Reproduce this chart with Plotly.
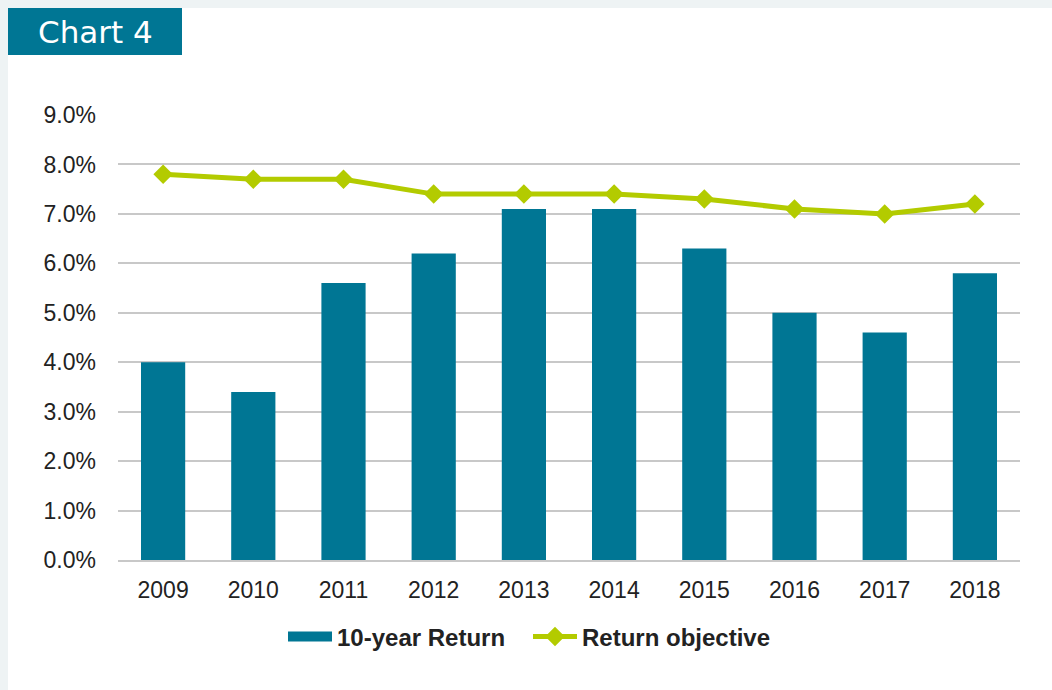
import plotly.graph_objects as go

years = ["2009", "2010", "2011", "2012", "2013", "2014", "2015", "2016", "2017", "2018"]
ten_year_return = [4.0, 3.4, 5.6, 6.2, 7.1, 7.1, 6.3, 5.0, 4.6, 5.8]
return_objective = [7.8, 7.7, 7.7, 7.4, 7.4, 7.4, 7.3, 7.1, 7.0, 7.2]
y_ticks = [0, 1, 2, 3, 4, 5, 6, 7, 8, 9]
y_tick_labels = [f"{v:.1f}%" for v in y_ticks]

TEAL = "#007694"
LIME = "#b3cb00"
W, H = 1052, 690
L, R, T, B = 118, 32, 115, 130
pw, ph = W - L - R, H - T - B

def px(x):
    return (x - L) / pw

def py(y):
    return (H - B - y) / ph

fig = go.Figure()
fig.add_trace(go.Bar(x=years, y=ten_year_return, name="10-year Return",
                     marker=dict(color=TEAL, line=dict(width=0)), showlegend=False))
# legend swatch for bars (wide rectangle like the original)
fig.add_trace(go.Scatter(x=[None], y=[None], name="10-year Return", mode="lines",
                         line=dict(color=TEAL, width=13), showlegend=True))
fig.add_trace(go.Scatter(x=years, y=return_objective, name="Return objective",
                         mode="lines+markers",
                         line=dict(color=LIME, width=5),
                         marker=dict(symbol="diamond", size=15, color=LIME)))

shapes = [
    dict(type="rect", xref="paper", yref="paper", x0=px(0), x1=px(W), y0=py(0), y1=py(8),
         fillcolor="#eef3f4", line=dict(width=0), layer="below"),
    dict(type="rect", xref="paper", yref="paper", x0=px(0), x1=px(8), y0=py(0), y1=py(H),
         fillcolor="#eef3f4", line=dict(width=0), layer="below"),
    dict(type="rect", xref="paper", yref="paper", x0=px(8), x1=px(182), y0=py(8), y1=py(55),
         fillcolor=TEAL, line=dict(width=0), layer="below"),
]

fig.update_layout(
    width=W, height=H,
    margin=dict(l=L, r=R, t=T, b=B),
    paper_bgcolor="white", plot_bgcolor="white",
    shapes=shapes,
    bargap=0.51,
    font=dict(family="Liberation Sans", color="#222222", size=23),
    annotations=[dict(text="Chart 4", xref="paper", yref="paper", x=px(95), y=py(32),
                      xanchor="center", yanchor="middle", showarrow=False,
                      font=dict(family="DejaVu Sans", size=31, color="white"))],
    legend=dict(orientation="h", x=px(283), xanchor="left", y=py(637), yanchor="middle",
                font=dict(size=24, family="Liberation Sans", color="#222222", weight="bold"),
                itemwidth=44, tracegroupgap=0, entrywidthmode="pixels", entrywidth=186),
    xaxis=dict(range=[-0.5, 9.5], showgrid=False, showline=True, linecolor="#c8c8c8", linewidth=2,
               ticks="", ticklabelstandoff=8, tickfont=dict(size=23)),
    yaxis=dict(range=[0, 9], tickvals=y_ticks, ticktext=y_tick_labels,
               showgrid=True, gridcolor="#c8c8c8", gridwidth=2,
               zeroline=False, showline=False, ticks="", ticklabelstandoff=21,
               tickfont=dict(size=23)),
)

fig.write_html("out.html")
